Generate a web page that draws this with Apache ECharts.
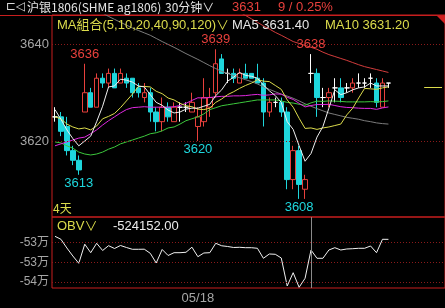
<!DOCTYPE html>
<html><head><meta charset="utf-8">
<script src="https://cdn.jsdelivr.net/npm/echarts@6/dist/echarts.min.js"></script>
<style>html,body{margin:0;padding:0;background:#000;}#c{width:445px;height:308px;}</style>
</head><body><div id="c"></div>
<script>
// ---- data ----
const categories = ['1','2','3','4','5','6','7','8','9','10','11','12','13','14','15','16','17','18','19','20','21','22','23','24','25','26','27','28','29','30','31','32','33','34','35','36','37','38','39','40','41','42','43','44','45','46','47','48','49','50','51','52','53','54','55','56','57'];
const opens  = [3625,3625,3623,3618,3616,3626,3630,3627,3633,3632,3634,3632,3633,3633,3631,3629,3630,3626,3624,3627,3624,3627,3627,3626,3623,3624,3627,3630,3637,3634,3634,3632,3634,3634,3633,3632,3626,3628,3628,3626,3612,3618,3610,3634,3634,3629,3629,3631,3631,3631,3631,3632,3632,3633,3632,3627,3632];
const closes = [3625,3622,3618,3616,3614,3630,3627,3633,3632,3634,3631,3634,3632,3630,3630,3630,3626,3624,3627,3625,3627,3627,3627,3628,3625,3629,3629,3636,3634,3634,3633,3634,3633,3633,3632,3626,3628,3628,3626,3612,3618,3611,3612,3634,3629,3629,3630,3631,3629,3631,3632,3632,3632,3633,3628,3632,3632];
const lows   = [3624,3621,3617,3615,3613,3626,3627,3627,3631,3631,3631,3632,3631,3629,3629,3628,3624,3622,3622,3624,3624,3624,3626,3626,3620,3623,3625,3629,3634,3632,3632,3632,3633,3633,3632,3623,3625,3627,3625,3610,3610,3608,3608,3632,3625,3627,3627,3628,3628,3630,3630,3631,3631,3631,3627,3627,3631];
const highs  = [3627,3626,3625,3619,3617,3636,3631,3634,3634,3635,3635,3635,3634,3633,3632,3632,3631,3627,3629,3628,3628,3628,3628,3630,3627,3633,3631,3639,3638,3635,3635,3635,3636,3634,3636,3633,3629,3629,3629,3627,3619,3619,3613,3638,3635,3631,3631,3633,3633,3632,3633,3634,3633,3634,3633,3633,3632];

const ma5  = [3626.5,3624.5,3622.3,3620.5,3619,3620,3621,3624,3627.2,3631.2,3631.4,3632.8,3632.6,3632.2,3631.4,3631.2,3629.6,3628,3627.4,3626.4,3625.8,3626,3626.6,3626.8,3626.8,3627.2,3627.6,3629.4,3630.6,3632.4,3633.2,3634.2,3633.6,3633.4,3633,3631.6,3630.4,3629.4,3628,3624,3622.4,3619,3615.8,3617.4,3620.8,3623,3626.8,3630.6,3629.6,3630,3630.6,3631,3631.2,3632,3631.4,3631.4,3631.4];
const ma10 = [3625.0,3624.6,3623.5,3622.9,3622.5,3622.7,3622.3,3623.1,3624.6,3625.1,3625.7,3626.9,3628.3,3629.7,3631.3,3631.3,3631.2,3630.3,3629.8,3628.9,3628.5,3627.8,3627.3,3627.1,3626.6,3626.5,3626.8,3628,3628.7,3629.6,3630.2,3630.9,3631.5,3632,3632.7,3632.4,3632.3,3631.5,3630.7,3628.5,3627,3624.7,3622.6,3622.7,3622.4,3622.7,3622.9,3623.2,3623.5,3625.4,3626.8,3628.9,3630.9,3630.8,3630.7,3631,3631.2];
const ma20 = [3619.0,3619.4,3619.8,3620.2,3620.6,3620.8,3621.5,3622.3,3623.3,3624.2,3625.0,3625.8,3626.5,3626.9,3627.0,3627.1,3627.0,3627.0,3627.0,3627.0,3627.1,3627.35,3627.8,3628.4,3628.95,3628.9,3629.0,3629.15,3629.25,3629.25,3629.35,3629.35,3629.4,3629.55,3629.65,3629.45,3629.55,3629.75,3629.7,3629.05,3628.6,3627.8,3627.05,3627.35,3627.55,3627.55,3627.6,3627.35,3627.1,3626.95,3626.9,3626.8,3626.75,3626.75,3626.55,3626.85,3627.05];
const ma40 = [3619.8,3619.6,3619.0,3618.5,3617.7,3617.3,3617.1,3617.3,3617.7,3618.3,3618.75,3619.4,3619.8,3620.2,3620.6,3621.0,3621.5,3621.7,3622.1,3622.7,3622.9,3623.5,3624.2,3624.6,3625.0,3625.6,3626.5,3626.9,3627.3,3627.5,3627.7,3627.9,3628.1,3628.3,3628.5,3628.5,3628.5,3628.5,3628.3,3628.0,3627.85,3627.6,3627.4,3627.9,3628.25,3628.2,3628.3,3628.25,3628.2,3628.1,3628.1,3628.1,3628.1,3628.15,3628.1,3628.15,3628.3];
const ma90 = [null,null,null,null,null,null,null,null,3646.5,3645.8,3645.2,3644.6,3644.0,3643.4,3642.9,3642.4,3641.9,3641.25,3640.6,3640.0,3639.4,3638.75,3638.1,3637.5,3636.9,3636.25,3635.6,3635.0,3634.4,3634.0,3633.5,3633.1,3632.7,3632.3,3631.8,3631.25,3630.7,3630.2,3629.7,3629.3,3628.85,3628.3,3627.7,3627.2,3626.7,3626.25,3625.8,3625.5,3625.2,3624.9,3624.7,3624.5,3624.2,3624.0,3623.75,3623.6,3623.5];
const ma120 = [null,null,null,null,null,null,null,null,null,null,null,null,null,null,null,null,null,null,null,null,null,null,null,null,null,null,null,null,null,null,null,3646.7,3646.0,3645.3,3644.6,3643.85,3643.2,3642.5,3641.9,3641.25,3640.6,3640.2,3639.8,3639.4,3639.0,3638.4,3637.9,3637.5,3637.1,3636.7,3636.25,3635.8,3635.4,3635.1,3634.8,3634.5,3634.2];

const obv = [-523376,-524137,-526345,-528376,-530228,-525381,-527538,-525152,-526980,-525761,-526472,-525711,-526218,-526675,-526675,-526650,-527690,-530152,-526726,-528249,-527538,-527538,-527436,-526142,-528553,-527614,-527538,-525152,-525787,-525964,-526218,-526167,-526269,-526269,-526421,-528959,-527868,-527944,-528883,-535990,-532614,-536319,-534035,-526853,-528959,-528959,-526853,-526269,-526853,-526599,-526523,-526421,-526421,-525838,-527538,-524137,-524152];

const extremeBars   = [5, 4, 27, 24, 43, 41];
const extremeValues = [3636, 3613, 3639, 3620, 3638, 3608];
const extremeKinds  = ['high','low','high','low','high','low'];

const priceTicks = [3620, 3640];
const obvTicks = [-525000, -530000, -535000];
const obvTickLabels = ['-53万', '-53万', '-54万'];
const dateTickBars = [24];
const dateTickTexts = ['05/18'];
const lastPrice = 3631;
const change = 9;
const changePct = '0.25%';
const dayCount = '4天';
const padSlots = 9;

// ---- build ----
const UP = '#e8403c', DOWN = '#1ed6dc', YEL = '#dcdc4c', GRAYTXT = '#a6a6a6', BORDER = '#c81e1e', DOT = '#8a1a1a';
const axisCats = categories.concat(Array.from({length: padSlots}, (_, i) => 'pad' + i));
const last = closes.length - 1;

const kData = categories.map((_, i) => {
  const item = { value: [opens[i], closes[i], lows[i], highs[i]] };
  if (opens[i] === closes[i]) item.itemStyle = { color: '#fff', color0: '#fff', borderColor: '#fff', borderColor0: '#fff' };
  return item;
});

const markPts = extremeBars.map((b, k) => ({
  coord: [b, extremeValues[k]],
  value: extremeValues[k],
  label: {
    position: extremeKinds[k] === 'high' ? 'top' : 'bottom',
    distance: extremeKinds[k] === 'high' ? 3 : 2,
    color: extremeKinds[k] === 'high' ? UP : DOWN
  }
}));

const lbl = (text, x, y, fill, size, family) => ({
  type: 'text', x: x, y: y, silent: true, z: 100,
  style: { text: text, fill: fill, font: (size || 12) + 'px ' + (family || '"Liberation Sans", "Noto Sans CJK SC", sans-serif'), verticalAlign: 'middle' }
});

const lineS = (name, data, color, extra) => Object.assign({
  name: name, type: 'line', data: data, xAxisIndex: 0, yAxisIndex: 0,
  symbol: 'none', showSymbol: false, silent: true, connectNulls: false,
  lineStyle: { color: color, width: 1 }, z: 3
}, extra || {});

const chart = echarts.init(document.getElementById('c'), null, { renderer: 'canvas' });
chart.setOption({
  backgroundColor: '#000',
  animation: false,
  grid: [
    { left: 52, top: 15, right: -3, height: 202, show: true, borderColor: BORDER, borderWidth: 1, backgroundColor: 'transparent' },
    { left: 52, top: 217, right: -3, height: 71, show: true, borderColor: BORDER, borderWidth: 1, backgroundColor: 'transparent' }
  ],
  xAxis: [
    { type: 'category', gridIndex: 0, data: axisCats, boundaryGap: true, axisLine: { show: false }, axisTick: { show: false }, axisLabel: { show: false }, splitLine: { show: false } },
    { type: 'category', gridIndex: 1, data: axisCats, boundaryGap: true, axisLine: { show: false }, axisTick: { show: false }, splitLine: { show: false },
      axisLabel: { interval: 0, color: GRAYTXT, fontSize: 13, margin: 4, fontFamily: '"Liberation Sans", sans-serif',
        formatter: (v, idx) => { const k = dateTickBars.indexOf(idx); return k >= 0 ? dateTickTexts[k] : ''; } } }
  ],
  yAxis: [
    { type: 'value', gridIndex: 0, min: 3604.25, max: 3646.1, axisLine: { show: false }, axisTick: { show: false }, splitLine: { show: false },
      axisLabel: { color: GRAYTXT, fontSize: 13, margin: 3, fontFamily: '"Liberation Sans", sans-serif',
        formatter: v => { const k = priceTicks.findIndex(t => Math.abs(t - v) < 1e-6); return k >= 0 ? String(priceTicks[k]) : ''; } } },
    { type: 'value', gridIndex: 1, min: -536500, max: -518480, splitNumber: 4, axisLine: { show: false }, axisTick: { show: false }, splitLine: { show: false },
      axisLabel: { color: GRAYTXT, fontSize: 12, margin: 3, fontFamily: '"Liberation Sans", "Noto Sans CJK SC", sans-serif',
        formatter: v => { const k = obvTicks.findIndex(t => Math.abs(t - v) < 1e-6); return k >= 0 ? obvTickLabels[k] : ''; } } }
  ],
  series: [
    {
      type: 'candlestick', xAxisIndex: 0, yAxisIndex: 0, data: kData, barWidth: 5, silent: true, z: 2,
      itemStyle: { color: '#000', color0: DOWN, borderColor: UP, borderColor0: DOWN, borderWidth: 1 },
      markLine: { silent: true, symbol: ['none', 'none'], label: { show: false },
        lineStyle: { color: DOT, type: [1, 2], width: 1 },
        data: priceTicks.map(t => ({ yAxis: t })) },
      markPoint: { silent: true, symbol: 'circle', symbolSize: 0, itemStyle: { color: 'transparent' },
        label: { show: true, fontSize: 13, fontFamily: '"Liberation Sans", sans-serif', formatter: p => String(p.value) },
        data: markPts }
    },
    lineS('MA120', ma120, '#d23c3c'),
    lineS('MA90', ma90, '#7c7c7c'),
    lineS('MA40', ma40, '#3cc83c'),
    lineS('MA20', ma20, '#e028e0'),
    lineS('MA10', ma10, YEL, { markLine: { silent: true, symbol: ['none', 'none'], label: { show: false },
      lineStyle: { color: YEL, type: 'solid', width: 1 },
      data: [[{ coord: [last + 6, ma10[last]] }, { coord: [last + 9, ma10[last]] }]] } }),
    lineS('MA5', ma5, '#f0f0f0'),
    {
      type: 'line', name: 'OBV', xAxisIndex: 1, yAxisIndex: 1, data: obv, symbol: 'none', silent: true,
      lineStyle: { color: '#f0f0f0', width: 1 }, z: 3,
      markLine: { silent: true, symbol: ['none', 'none'], label: { show: false },
        data: obvTicks.map(t => ({ yAxis: t, lineStyle: { color: DOT, type: [1, 2], width: 1 } }))
          .concat([{ xAxis: 43, lineStyle: { color: '#8a8a8a', type: 'solid', width: 1 } }]) }
    }
  ],
  graphic: [
    { type: 'line', silent: true, shape: { x1: 0, y1: 15.5, x2: 445, y2: 15.5 }, style: { stroke: BORDER, lineWidth: 1 } },
    { type: 'polygon', silent: true, shape: { points: [[437, 16], [445, 16], [445, 24]] }, style: { fill: '#d02020' } },
    lbl('⊏◁', 6, 7, '#d8d8d8', 12, '"DejaVu Sans", sans-serif'),
    lbl('沪银1806(SHME ag1806)', 27, 7, '#e6e6e6', 12, '"Noto Sans CJK SC", sans-serif'),
    lbl('30分钟∨', 165, 7, '#e6e6e6', 12, '"Noto Sans CJK SC", sans-serif'),
    lbl(String(lastPrice), 232, 7, UP, 13),
    lbl(change + ' / ' + changePct, 278, 7, UP, 13),
    lbl('MA組合(5,10,20,40,90,120)∨', 57, 25, YEL, 13, '"Liberation Sans", "Noto Sans CJK TC", sans-serif'),
    lbl('MA5 ' + ma5[last].toFixed(2), 232, 25, '#e6e6e6', 13),
    lbl('MA10 ' + ma10[last].toFixed(2), 325, 25, YEL, 13),
    lbl(dayCount, 53, 208, YEL, 12, '"Noto Sans CJK SC", sans-serif'),
    lbl('OBV∨', 57, 226, YEL, 13),
    lbl(obv[last].toFixed(2), 113, 226, '#ececec', 13)
  ]
});
</script></body></html>
